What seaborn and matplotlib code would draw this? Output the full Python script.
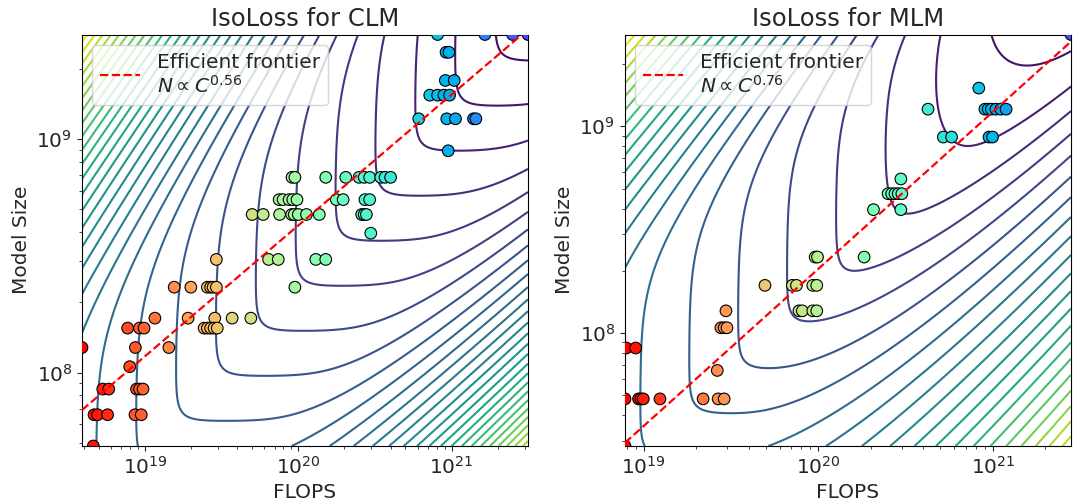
import numpy as np
import pandas as pd
import matplotlib
matplotlib.use("Agg")
import matplotlib.pyplot as plt
import seaborn as sns

# ---- runs: model size -> FLOPS of each run at that size ----
clm_sizes = [2.8e9, 2.35e9, 1.78e9, 1.54e9, 1.22e9, 8.9e8, 6.85e8, 5.5e8, 4.75e8, 3.95e8,
             3.05e8, 2.32e8, 1.71e8, 1.55e8, 1.28e8, 1.06e8, 8.5e7, 6.6e7, 4.85e7]
clm_flops = [
    [8.1e20, 1.65e21, 2.5e21, 3.15e21],
    [9.2e20, 9.6e20],
    [9.1e20, 1.04e21],
    [7.2e20, 8.1e20, 8.9e20, 9.7e20],
    [6.1e20, 9.3e20, 1.06e21, 1.39e21, 1.44e21],
    [9.5e20],
    [9.1e19, 9.5e19, 1.51e20, 2.04e20, 2.49e20, 2.69e20, 2.92e20, 3.45e20, 3.68e20, 4.0e20],
    [7.5e19, 7.95e19, 8.7e19, 9.2e19, 9.8e19, 1.77e20, 1.96e20, 2.72e20, 2.92e20],
    [5.0e19, 5.9e19, 7.55e19, 9.05e19, 9.4e19, 1.0e20, 1.13e20, 1.37e20, 2.59e20, 2.69e20, 2.78e20],
    [2.97e20],
    [2.92e19, 6.4e19, 7.4e19, 1.3e20, 1.51e20],
    [1.55e19, 1.99e19, 2.55e19, 2.68e19, 2.78e19, 2.92e19, 9.5e19],
    [1.16e19, 1.91e19, 2.85e19, 3.7e19, 4.9e19],
    [7.7e18, 9.2e18, 9.85e18, 2.43e19, 2.55e19, 2.68e19, 2.82e19, 2.96e19],
    [3.88e18, 8.65e18, 1.43e19],
    [7.95e18],
    [5.3e18, 5.8e18, 8.8e18, 9.2e18, 9.7e18],
    [4.65e18, 4.9e18, 5.7e18, 8.6e18, 9.45e18],
    [4.6e18],
]

mlm_sizes = [2.78e9, 1.53e9, 1.21e9, 8.87e8, 5.56e8, 4.72e8, 3.95e8, 2.33e8, 1.7e8, 1.28e8,
             1.06e8, 8.46e7, 6.59e7, 4.8e7, 2.84e7]
mlm_flops = [
    [2.8e21],
    [8.3e20],
    [4.25e20, 9.0e20, 9.4e20, 9.8e20, 1.04e21, 1.11e21, 1.19e21],
    [5.2e20, 5.8e20, 9.5e20, 9.95e20],
    [2.97e20],
    [2.51e20, 2.63e20, 2.75e20, 2.87e20, 3.01e20],
    [2.07e20, 2.97e20],
    [9.6e19, 9.9e19, 1.83e20],
    [4.95e19, 7.1e19, 7.5e19, 9.3e19, 9.8e19],
    [2.96e19, 7.75e19, 8.1e19, 9.3e19, 9.8e19],
    [2.77e19, 2.89e19, 3.0e19],
    [7.96e18, 9.0e18],
    [2.64e19],
    [7.82e18, 9.35e18, 9.65e18, 9.95e18, 1.24e19, 2.19e19, 2.67e19, 2.89e19],
    [7.82e18],
]

# efficient frontier N = 10**logk * C**exp
clm_exp, clm_logk = 0.56, -2.57
mlm_exp, mlm_logk = 0.76, -6.89

# upper end of the colour scale (log10 FLOPS)
clm_hue_top, mlm_hue_top = 21.75, 21.7

# fitted iso-loss surface in log10 space: corner line (sv, cv), upper wall (m2, c2, a2, q2),
# lower wall (m1, c1, q1), contour step and one anchor level
clm_surf = dict(sv=1.35, cv=-8.68, m2=0.72, c2=-5.18, a2=2.3, q2=1.4,
                m1=0.797, c1=-8.018, q1=2.3, step=0.26, anchor=-19.98)
mlm_surf = dict(sv=1.316, cv=-9.246, m2=0.75, c2=-5.84, a2=2.35, q2=1.2,
                m1=1.48, c1=-21.318, q1=0.442, step=0.28, anchor=-20.38)

SHARP = 15.0


def soft(t, k=8.0):
    return np.logaddexp(0.0, k * t) / k


def isoloss(u, v, p):
    base = np.logaddexp(-SHARP * u, SHARP * (p["cv"] - p["sv"] * v)) / SHARP
    t_top = soft(v - p["m2"] * u - p["c2"])
    t_bot = soft(p["m1"] * u + p["c1"] - v)
    return base + p["a2"] * t_top + p["q2"] * t_top ** 2 + p["q1"] * t_bot ** 2


def to_frame(sizes, flops):
    rows = [(f, n) for n, fl in zip(sizes, flops) for f in fl]
    df = pd.DataFrame(rows, columns=["flops", "params"])
    df["logc"] = np.log10(df["flops"])
    return df


sns.set_style("ticks")
plt.rcParams["font.family"] = ["DejaVu Sans"]
plt.rcParams["axes.edgecolor"] = "black"

fig = plt.figure(figsize=(10.73, 5.04), dpi=100)
W, H = 1073, 504
ax1 = fig.add_axes([82 / W, 1 - 446 / H, 446 / W, 411.5 / H])
ax2 = fig.add_axes([625 / W, 1 - 446 / H, 446 / W, 411.5 / H])

panels = [
    (ax1, "CLM", to_frame(clm_sizes, clm_flops), clm_exp, clm_logk, clm_surf, clm_hue_top),
    (ax2, "MLM", to_frame(mlm_sizes, mlm_flops), mlm_exp, mlm_logk, mlm_surf, mlm_hue_top),
]

for ax, name, df, ex, logk, surf, hue_top in panels:
    x0, x1 = df["flops"].min(), df["flops"].max()
    y0, y1 = df["params"].min(), df["params"].max()

    cx = np.logspace(np.log10(x0), np.log10(x1), 400)
    ny = np.logspace(np.log10(y0), np.log10(y1), 400)
    CX, NY = np.meshgrid(cx, ny)
    Z = isoloss(np.log10(CX), np.log10(NY), surf)
    k_lo = np.floor((Z.min() - surf["anchor"]) / surf["step"])
    k_hi = np.ceil((Z.max() - surf["anchor"]) / surf["step"])
    levels = surf["anchor"] + surf["step"] * np.arange(k_lo, k_hi + 1)
    ax.contour(CX, NY, Z, levels=levels, cmap="viridis", linewidths=1.5, zorder=1)

    sns.scatterplot(data=df, x="flops", y="params", hue="logc", palette="rainbow_r",
                    hue_norm=(df["logc"].min(), hue_top),
                    s=70, edgecolor="black", linewidth=0.8, legend=False, ax=ax, zorder=3)

    ax.plot(cx, 10 ** logk * cx ** ex, "--", color="red", lw=1.6, zorder=4,
            label="Efficient frontier\n$N \\propto C^{%.2f}$" % ex)

    ax.set_xscale("log")
    ax.set_yscale("log")
    ax.set_xlim(x0, x1)
    ax.set_ylim(y0, y1)
    ax.set_title(f"IsoLoss for {name}", fontsize=17.5)
    ax.set_xlabel("FLOPS", fontsize=14.5)
    ax.set_ylabel("Model Size", fontsize=14.5)
    ax.tick_params(axis="both", which="major", labelsize=14.5)
    ax.legend(loc="upper left", fontsize=14.5)

fig.savefig("out.png", dpi=100)
